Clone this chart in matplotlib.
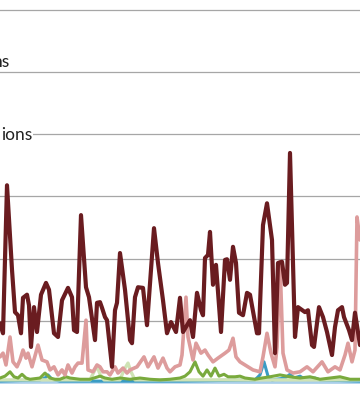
import matplotlib
matplotlib.use("Agg")
import matplotlib.pyplot as plt

# x positions (time index) and values for each series
maroon_t = [0, 3, 7, 12, 15, 18, 21, 23, 27, 29, 31, 34, 37, 41, 46, 49, 54, 58, 62, 68,
            72, 74, 77, 81, 86, 89, 95, 97, 100, 102, 105, 107, 112, 115, 117, 120, 125, 130,
            132, 135, 138, 143, 147, 154, 158, 163, 167, 171, 176, 180, 183, 190, 193, 197,
            201, 203, 205, 208, 210, 213, 216, 221, 225, 227, 230, 233, 236, 239, 243, 247,
            250, 257, 259, 263, 267, 272, 275, 278, 282, 285, 287, 290, 295, 298, 305, 308,
            312, 314, 319, 323, 327, 332, 335, 338, 342, 344, 349, 352, 355, 360]
maroon_v = [9.6, 8.0, 31.8, 18.2, 11.4, 10.9, 8.0, 13.7, 14.2, 12.5, 5.8, 12.2, 8.2, 14.2,
            16.1, 15.0, 8.0, 7.4, 13.3, 15.3, 13.8, 8.5, 8.2, 27.0, 15.4, 13.8, 6.9, 12.9,
            13.0, 12.1, 10.6, 10.1, 2.6, 11.7, 12.9, 20.9, 15.0, 6.9, 6.4, 13.8, 15.4, 15.3,
            9.3, 24.9, 19.3, 13.3, 8.0, 9.8, 8.2, 13.7, 8.2, 10.1, 7.4, 14.5, 11.7, 10.9,
            20.1, 20.6, 24.3, 15.8, 19.0, 8.2, 19.8, 19.9, 16.6, 21.9, 19.3, 11.3, 10.9, 14.5,
            14.2, 8.0, 8.0, 25.4, 28.9, 23.0, 4.8, 19.3, 19.5, 15.8, 16.1, 37.0, 7.4, 12.2,
            11.4, 11.7, 6.1, 5.8, 12.2, 10.6, 8.2, 4.5, 9.0, 11.7, 12.2, 10.6, 8.5, 6.9,
            11.3, 6.1]

pink_t = [0, 3, 6, 10, 13, 17, 20, 23, 26, 28, 32, 38, 42, 47, 50, 54, 58, 62, 65, 68, 72,
          75, 78, 82, 86, 88, 93, 97, 100, 103, 107, 110, 115, 118, 123, 127, 130, 137, 144,
          148, 154, 158, 163, 167, 170, 175, 180, 182, 186, 188, 193, 196, 201, 205, 208, 213,
          218, 225, 229, 233, 236, 240, 245, 248, 253, 260, 263, 267, 271, 275, 277, 280, 283,
          287, 293, 300, 307, 313, 322, 328, 335, 340, 345, 348, 352, 355, 357, 360]
pink_v = [4.2, 4.8, 2.9, 7.4, 3.4, 2.6, 3.7, 5.3, 4.0, 4.8, 2.6, 6.1, 3.7, 3.4, 2.1, 2.6,
          1.3, 2.1, 1.3, 2.9, 1.6, 2.6, 3.2, 3.2, 10.1, 2.1, 1.8, 2.9, 2.6, 1.8, 1.8, 1.3,
          2.6, 1.6, 2.4, 1.6, 2.1, 2.6, 4.2, 2.6, 4.2, 2.4, 4.0, 2.4, 1.8, 2.6, 2.9, 4.5,
          13.8, 7.4, 3.7, 6.4, 4.8, 5.3, 4.5, 3.4, 4.0, 4.8, 5.3, 7.2, 4.2, 3.4, 2.9, 2.6,
          2.1, 1.8, 4.2, 8.0, 4.8, 2.6, 5.8, 19.5, 4.8, 2.1, 1.6, 1.8, 2.6, 1.8, 3.4, 1.8,
          2.6, 2.1, 4.5, 6.4, 3.4, 5.3, 26.7, 23.0]

green_t = [0, 5, 10, 14, 18, 22, 26, 30, 40, 45, 50, 55, 60, 66, 70, 80, 90, 100, 105, 112,
           120, 130, 140, 150, 160, 170, 180, 185, 190, 195, 199, 203, 207, 211, 215, 219,
           224, 228, 235, 240, 245, 255, 262, 270, 280, 290, 300, 310, 320, 330, 340, 350, 360]
green_v = [0.8, 1.1, 1.8, 1.0, 0.8, 1.4, 0.8, 0.6, 0.8, 1.6, 0.8, 0.6, 0.6, 1.0, 0.8, 0.6,
           0.6, 1.1, 0.8, 0.6, 0.8, 0.6, 0.8, 0.6, 0.5, 0.6, 0.8, 1.1, 1.8, 3.4, 1.8, 1.1,
           2.1, 1.1, 2.4, 1.1, 1.4, 1.0, 1.0, 1.1, 0.8, 0.6, 0.8, 1.0, 1.3, 1.0, 0.8, 1.0,
           0.6, 0.8, 1.0, 0.6, 0.6]

pale_t = [0, 90, 94, 97, 100, 104, 120, 124, 128, 131, 135, 360]
pale_v = [0.5, 0.5, 1.8, 2.7, 1.4, 0.5, 0.5, 2.1, 3.2, 1.8, 0.5, 0.5]

teal_t = [0, 40, 45, 48, 52, 60, 100, 180, 255, 260, 264, 268, 272, 285, 290, 294, 300,
          305, 315, 320, 360]
teal_v = [0.3, 0.5, 0.8, 1.3, 0.6, 0.3, 0.3, 0.3, 0.5, 1.3, 3.4, 1.1, 0.5, 0.8, 1.4, 0.8,
          1.1, 0.6, 0.8, 0.5, 0.3]

light_t = [0, 120, 240, 360]
light_v = [0.15, 0.2, 0.15, 0.15]

grid_vals = [10, 20, 30, 40, 50, 60]

plt.rcParams['font.family'] = ['Lato', 'DejaVu Sans']

fig = plt.figure(figsize=(3.6, 3.94), dpi=100)
ax = fig.add_axes([0, 0, 1, 1])
ax.set_xlim(0, 360)
ax.set_ylim(-1.77, 61.6)
ax.axis('off')

for g in grid_vals:
    ax.axhline(g, color='#a6a6a6', lw=0.9, zorder=1)

style = dict(solid_joinstyle='round', solid_capstyle='round')
ax.plot(light_t, light_v, color='#a9cfea', lw=2.6, zorder=2, **style)
ax.plot(teal_t, teal_v, color='#3a9cc4', lw=2.2, zorder=3, **style)
ax.plot(pale_t, pale_v, color='#cfe3b5', lw=2.4, zorder=3, **style)
ax.plot(green_t, green_v, color='#79aa3d', lw=2.2, zorder=4, **style)
ax.plot(pink_t, pink_v, color='#dd9c9c', lw=2.6, zorder=5, **style)
ax.plot(maroon_t, maroon_v, color='#6a1c20', lw=3.0, zorder=6, **style)

ax.text(9.5, 50.3, 'ns', ha='right', va='bottom', fontsize=12.5, color='#222222', zorder=7)
ax.text(32, 39.9, 'ions', ha='right', va='center', fontsize=12.5, color='#222222', zorder=7,
        bbox=dict(facecolor='white', edgecolor='none', pad=0.5))

fig.savefig('out.png', dpi=100)
